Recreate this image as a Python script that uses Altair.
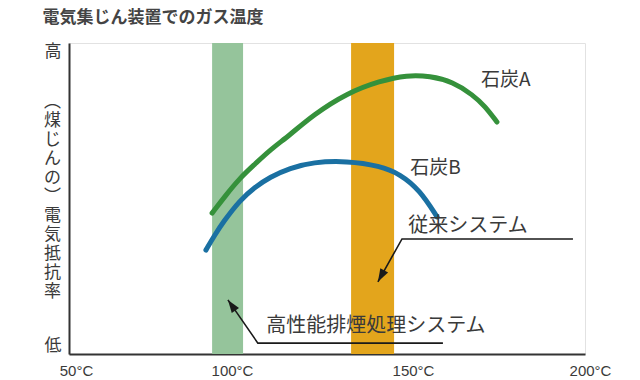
import altair as alt
import pandas as pd

FONT = "Noto Sans CJK JP"
TXT = "#3a3a3a"

# ---- data ----
temp_ticks = [50, 100, 150, 200]
level_ticks = [0, 100]
level_names = ["低", "高"]

coalA_temp = [91.6, 95.4, 99.7, 104.1, 108.4, 114.2, 120.9, 130.8, 140.4, 148.3, 154.9, 161.6, 167.4, 170.9, 174.4]
coalA_res = [45.3, 50.8, 56.6, 61.1, 65.6, 70.4, 76.8, 83.9, 87.8, 89.7, 89.4, 87.5, 83.3, 79.7, 74.6]
coalB_temp = [89.8, 92.4, 94.8, 99.7, 104.1, 108.4, 114.2, 120.9, 130.8, 140.4, 146.2, 152.0, 157.0]
coalB_res = [33.4, 38.3, 42.4, 49.5, 53.7, 56.9, 59.8, 61.7, 62.1, 60.5, 57.9, 52.7, 44.1]
series_names = ["石炭A", "石炭B"]
series_colors = ["#35913b", "#1a70a2"]

band_names = ["高性能排煙処理システム", "従来システム"]
band_start = [91.6, 132.0]
band_end = [100.6, 144.5]
band_colors = ["#95c49b", "#e3a51c"]

# annotation texts and anchor positions (temperature, resistivity level)
note_text = ["石炭A", "石炭B", "従来システム", "高性能排煙処理システム"]
note_temp = [177.0, 156.5, 166.0, 139.2]
note_res = [88.0, 59.8, 41.2, 9.0]
note_size = [19, 19, 20, 20]

# leader lines: polyline points for each band annotation (last point = arrow tip)
leader_id = ["h", "h", "h", "c", "c", "c"]
leader_seq = [0, 1, 2, 0, 1, 2]
leader_temp = [158.7, 104.9, 96.2, 196.5, 146.8, 139.8]
leader_res = [3.5, 3.5, 17.4, 37.0, 37.0, 23.2]
arrow_temp = [96.2, 139.8]
arrow_res = [17.4, 23.2]
arrow_angle = [325, 209]

ytitle_lines = ["︵", "煤", "じ", "ん", "の", "︶", "電", "気", "抵", "抗", "率"]

# ---- tables ----
bands = pd.DataFrame({"name": band_names, "t0": band_start, "t1": band_end,
                      "r0": [0] * 2, "r1": [100] * 2})
curves = pd.concat([
    pd.DataFrame({"series": series_names[0], "t": coalA_temp, "r": coalA_res, "i": range(len(coalA_temp))}),
    pd.DataFrame({"series": series_names[1], "t": coalB_temp, "r": coalB_res, "i": range(len(coalB_temp))}),
])
notes = pd.DataFrame({"text": note_text, "t": note_temp, "r": note_res, "s": note_size})
leaders = pd.DataFrame({"id": leader_id, "seq": leader_seq, "t": leader_temp, "r": leader_res})
arrows = pd.DataFrame({"t": arrow_temp, "r": arrow_res, "a": arrow_angle})

xscale = alt.Scale(domain=[50, 200], nice=False, zero=False)
yscale = alt.Scale(domain=[0, 100], nice=False, zero=False)

xaxis = alt.Axis(
    values=temp_ticks, labelExpr="datum.value + '°C'", title=None, grid=False, ticks=False,
    domainColor="#333333", domainWidth=2, labelFont="Liberation Sans", labelFontSize=15,
    labelColor=TXT, labelPadding=9, labelFlush=False,
    labelOffset={"expr": "datum.value == 50 ? 7 : datum.value == 100 ? -9 : datum.value == 200 ? 5 : 0"},
)
yaxis = alt.Axis(
    values=level_ticks,
    labelExpr=f"datum.value == 100 ? '{level_names[1]}' : '{level_names[0]}'",
    labelFlush=True, grid=False, ticks=False, domainColor="#333333", domainWidth=2,
    labelFont=FONT, labelFontSize=17, labelColor=TXT, labelPadding=8,
    title=ytitle_lines, titleAngle=0, titleX=-17, titleY=58, titleAlign="center",
    titleBaseline="middle", titleFont=FONT, titleFontSize=17, titleFontWeight="normal",
    titleColor=TXT, titleLineHeight=19,
)

band_layer = alt.Chart(bands).mark_rect().encode(
    x=alt.X("t0:Q", scale=xscale, axis=xaxis),
    x2="t1",
    y=alt.Y("r0:Q", scale=yscale, axis=yaxis),
    y2="r1",
    color=alt.Color("name:N", scale=alt.Scale(domain=band_names, range=band_colors), legend=None),
)

curve_layer = alt.Chart(curves).mark_line(strokeWidth=5, strokeCap="round", interpolate="basis").encode(
    x=alt.X("t:Q", scale=xscale, axis=xaxis),
    y=alt.Y("r:Q", scale=yscale, axis=yaxis),
    stroke=alt.Stroke("series:N", scale=alt.Scale(domain=series_names, range=series_colors), legend=None),
    order="i:Q",
)

leader_layer = alt.Chart(leaders).mark_line(strokeWidth=1.6, color="#1a1a1a").encode(
    x=alt.X("t:Q", scale=xscale, axis=xaxis),
    y=alt.Y("r:Q", scale=yscale, axis=yaxis),
    detail="id:N",
    order="seq:Q",
)

arrow_layer = alt.Chart(arrows).mark_point(
    shape="M0,0L0.75,2.2L-0.75,2.2Z", filled=True, opacity=1, size=140, color="#1a1a1a", strokeWidth=0
).encode(
    x=alt.X("t:Q", scale=xscale, axis=xaxis),
    y=alt.Y("r:Q", scale=yscale, axis=yaxis),
    angle=alt.Angle("a:Q", scale=None),
)

note_layer = alt.Chart(notes).mark_text(font=FONT, color=TXT).encode(
    x=alt.X("t:Q", scale=xscale, axis=xaxis),
    y=alt.Y("r:Q", scale=yscale, axis=yaxis),
    text="text:N",
    size=alt.Size("s:Q", scale=None),
)

chart = alt.layer(band_layer, curve_layer, leader_layer, arrow_layer, note_layer).properties(
    width=516, height=311,
    autosize=alt.AutoSizeParams(type="none"),
    padding={"left": 61, "top": 35, "right": 45, "bottom": 24},
    background="white",
    title=alt.TitleParams("電気集じん装置でのガス温度", anchor="start", font=FONT, fontSize=17,
                          fontWeight="bold", color="#444444", dx=-1, offset=15),
).configure_view(stroke="#e2e2e2", strokeWidth=1)

chart.save("out.html", embed_options={"renderer": "svg", "actions": False})
